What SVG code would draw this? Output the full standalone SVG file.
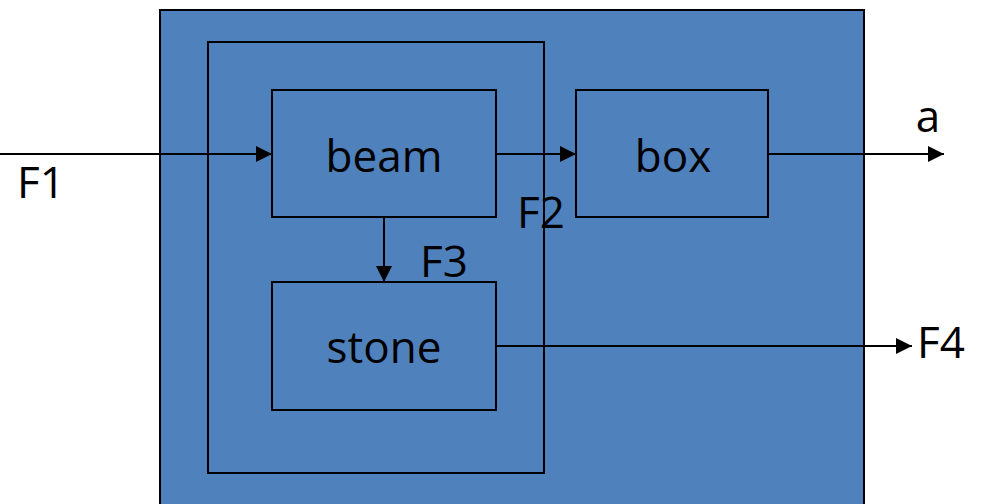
<svg xmlns="http://www.w3.org/2000/svg" width="981" height="504" viewBox="0 0 981 504">
<style>
.bx{fill:#4F81BD;stroke:#000;stroke-width:2}
.ln{fill:none;stroke:#000;stroke-width:2}
text{font-family:"Open Sans","Liberation Sans",sans-serif;font-size:44px;fill:#000;text-anchor:middle}
</style>
<defs>
<marker id="ah" viewBox="0 0 10 10" refX="10" refY="5" markerWidth="8" markerHeight="8" markerUnits="userSpaceOnUse" orient="auto"><path d="M0,0 L10,5 L0,10 z" fill="#000"/></marker>
<marker id="ah2" viewBox="0 0 10 10" refX="10" refY="5" markerWidth="16" markerHeight="16" markerUnits="userSpaceOnUse" orient="auto"><path d="M0,0 L10,5 L0,10 z" fill="#000"/></marker>
</defs>
<g id="outer"><rect class="bx" x="160" y="10" width="704" height="500"/></g>
<g id="frame"><rect class="bx" x="208" y="42" width="336" height="431"/></g>
<g id="beam"><rect class="bx" x="272" y="90" width="224" height="127"/><text x="384" y="172">beam</text></g>
<g id="box"><rect class="bx" x="576" y="90" width="192" height="127"/><text x="673" y="172">box</text></g>
<g id="stone"><rect class="bx" x="272" y="282" width="224" height="128"/><text x="384" y="363">stone</text></g>
<g id="connectors">
<line class="ln" x1="0" y1="154" x2="272" y2="154" marker-end="url(#ah2)"/>
<line class="ln" x1="496" y1="154" x2="576" y2="154" marker-end="url(#ah2)"/>
<line class="ln" x1="768" y1="154" x2="944" y2="154" marker-end="url(#ah2)"/>
<line class="ln" x1="384" y1="217" x2="384" y2="282" marker-end="url(#ah2)"/>
<line class="ln" x1="496" y1="346" x2="912" y2="346" marker-end="url(#ah2)"/>
</g>
<g id="labels">
<text x="41" y="198">F1</text>
<text x="541" y="228">F2</text>
<text x="444" y="277">F3</text>
<text x="928" y="132">a</text>
<text x="941" y="358">F4</text>
</g>
</svg>
